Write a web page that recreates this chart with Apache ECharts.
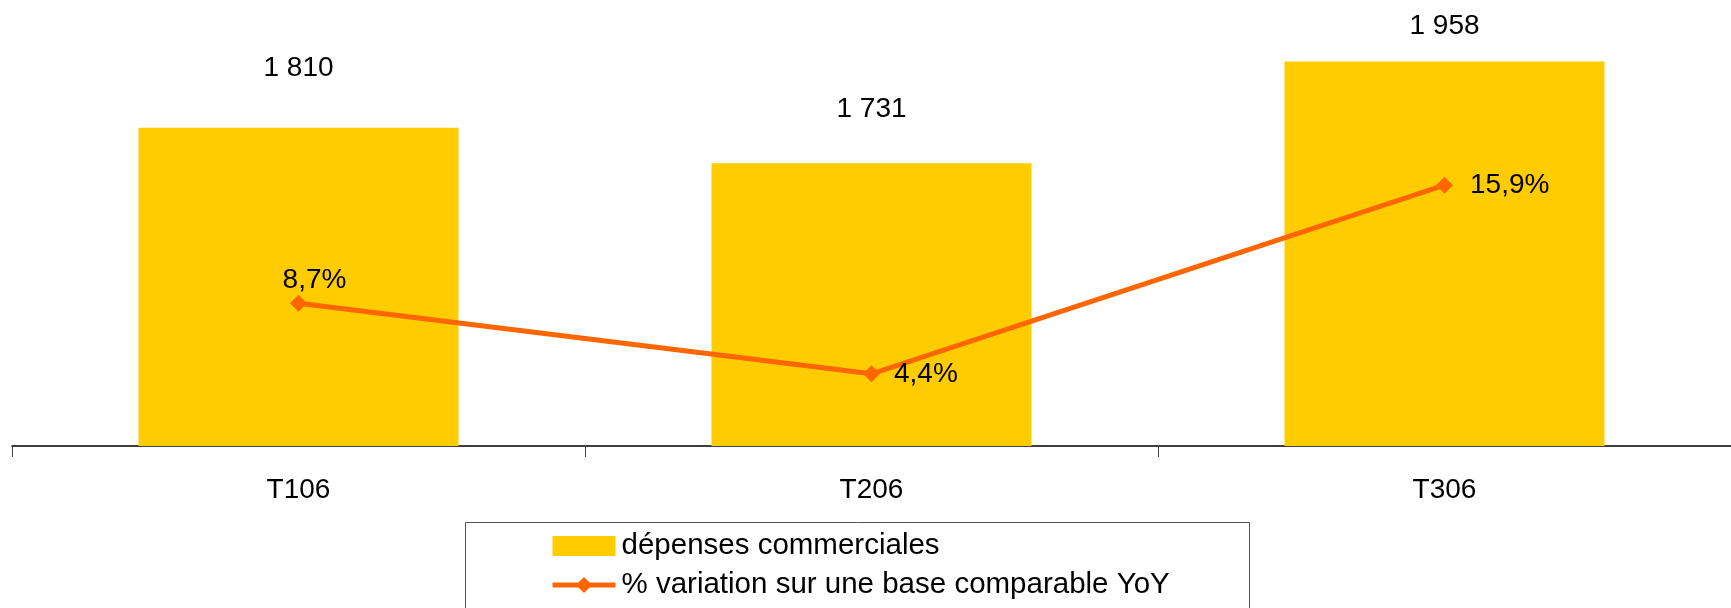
<!DOCTYPE html>
<html>
<head>
<meta charset="utf-8">
<script src="https://cdn.jsdelivr.net/npm/echarts@6/dist/echarts.min.js"></script>
<style>
  html, body { margin: 0; padding: 0; background: #fff; }
  #chart { width: 1731px; height: 608px; }
</style>
</head>
<body>
<div id="chart"></div>
<script>
// Quarterly figures
const categories = ['T106', 'T206', 'T306'];
const depenses = [1810, 1731, 1958];          // dépenses commerciales
const variation = [8.7, 4.4, 15.9];           // % variation YoY
const seriesNames = ['dépenses commerciales', '% variation sur une base comparable YoY'];
const unitLabel = "en millions d'euros";

const FONT = '"Liberation Sans", Arial, sans-serif';
const BAR_COLOR = '#FFCC00';
const LINE_COLOR = '#FF6600';

// spacing of the value labels above each bar
const barLabelDistance = [46, 40, 21];
// placement of the percentage labels next to each point
const lineLabelStyle = [
  { position: 'top', distance: 1, offset: [16, 0] },
  { position: 'right', distance: 14 },
  { position: 'right', distance: 17 }
];

const fmtThousands = v => String(v).replace(/\B(?=(\d{3})+(?!\d))/g, ' ');
const fmtPct = v => v.toFixed(1).replace('.', ',') + '%';

const chart = echarts.init(document.getElementById('chart'), null, { renderer: 'canvas' });

chart.setOption({
  backgroundColor: '#ffffff',
  animation: false,
  textStyle: { fontFamily: FONT },
  graphic: [
    {
      // unit caption, sitting at the very top edge
      type: 'text',
      left: 105,
      top: -23,
      style: { text: unitLabel, fill: '#8c8c8c', font: '26px ' + FONT }
    },
    {
      // frame around the legend
      type: 'rect',
      shape: { x: 465.5, y: 522.5, width: 784, height: 120 },
      style: { fill: 'none', stroke: '#555', lineWidth: 1 },
      z: 1
    }
  ],
  grid: { left: 12, top: 36, width: 1725, bottom: 162, containLabel: false },
  legend: {
    orient: 'vertical',
    left: 550,
    top: 531,
    padding: 0,
    itemWidth: 63,
    itemHeight: 20,
    itemGap: 9,
    textStyle: { fontFamily: FONT, fontSize: 29.5, color: '#000', padding: [0, 0, 0, 1] },
    data: [
      { name: seriesNames[0], icon: 'rect' },
      { name: seriesNames[1], lineStyle: { width: 5 } }
    ]
  },
  xAxis: {
    type: 'category',
    data: categories,
    boundaryGap: true,
    axisLine: { lineStyle: { color: '#000', width: 1.5 } },
    axisTick: { show: true, length: 11, lineStyle: { color: '#444', width: 1 } },
    axisLabel: { fontFamily: FONT, fontSize: 28, color: '#000', margin: 30 }
  },
  yAxis: [
    { type: 'value', min: 1100, max: 2015, show: false, splitLine: { show: false } },
    { type: 'value', min: 0, max: 25, show: false, splitLine: { show: false } }
  ],
  series: [
    {
      name: seriesNames[0],
      type: 'bar',
      yAxisIndex: 0,
      barWidth: 320,
      itemStyle: { color: BAR_COLOR },
      data: depenses.map((v, i) => ({
        value: v,
        label: {
          show: true,
          position: 'top',
          distance: barLabelDistance[i],
          formatter: p => fmtThousands(p.value),
          fontFamily: FONT,
          fontSize: 28,
          color: '#000'
        }
      }))
    },
    {
      name: seriesNames[1],
      type: 'line',
      yAxisIndex: 1,
      symbol: 'diamond',
      symbolSize: 17,
      lineStyle: { color: LINE_COLOR, width: 5 },
      itemStyle: { color: LINE_COLOR },
      z: 5,
      data: variation.map((v, i) => ({
        value: v,
        label: Object.assign({
          show: true,
          formatter: p => fmtPct(p.value),
          fontFamily: FONT,
          fontSize: 28,
          color: '#000'
        }, lineLabelStyle[i])
      }))
    }
  ]
});
</script>
</body>
</html>
